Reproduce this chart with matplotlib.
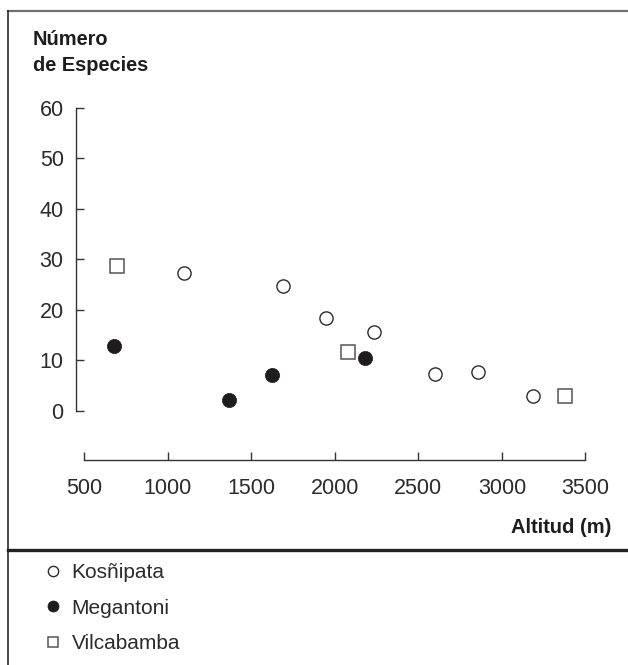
import matplotlib
matplotlib.use("Agg")
import matplotlib.pyplot as plt
from matplotlib.lines import Line2D

plt.rcParams['font.family'] = ['Liberation Sans', 'DejaVu Sans']

# Data
kosnipata_alt = [1100, 1690, 1950, 2236, 2600, 2855, 3186]
kosnipata_sp = [27.3, 24.6, 18.4, 15.6, 7.3, 7.7, 2.9]
megantoni_alt = [681, 1367, 1622, 2181]
megantoni_sp = [12.7, 2.1, 7.1, 10.5]
vilcabamba_alt = [695, 2079, 3377]
vilcabamba_sp = [28.6, 11.6, 2.9]
xticks = [500, 1000, 1500, 2000, 2500, 3000, 3500]
yticks = [0, 10, 20, 30, 40, 50, 60]
labels = ['Kosñipata', 'Megantoni', 'Vilcabamba']

W, H = 628, 665
fig = plt.figure(figsize=(W / 100, H / 100), dpi=100)

def fx(px):
    return px / W

def fy(py):
    return 1 - py / H

ax = fig.add_axes([0.1072, 0.2913, 0.8517, 0.5774])
ax.set_xlim(400, 3600)
ax.set_ylim(-12, 64)
ax.patch.set_visible(False)

k = ax.plot(kosnipata_alt, kosnipata_sp, 'o', ms=9.5, mfc='white', mec='#2b2b2b', mew=1.0,
            linestyle='none', label=labels[0])[0]
m = ax.plot(megantoni_alt, megantoni_sp, 'o', ms=10.2, mfc='#1e1c1d', mec='#1e1c1d', mew=0.5,
            linestyle='none', label=labels[1])[0]
v = ax.plot(vilcabamba_alt, vilcabamba_sp, 's', ms=9.5, mfc='white', mec='#555555', mew=1.1,
            linestyle='none', label=labels[2])[0]

for s in ['top', 'right']:
    ax.spines[s].set_visible(False)
ax.spines['left'].set_position(('data', 449))
ax.spines['left'].set_bounds(0, 60)
ax.spines['bottom'].set_position(('data', -9.8))
ax.spines['bottom'].set_bounds(500, 3500)
for s in ['left', 'bottom']:
    ax.spines[s].set_color('#333333')
    ax.spines[s].set_linewidth(1.0)

ax.set_xticks(xticks)
ax.set_yticks(yticks)
ax.set_xticklabels([str(t) for t in xticks])
ax.set_yticklabels([str(t) for t in yticks])
ax.tick_params(axis='both', direction='in', length=5.5, width=1.0, color='#333333',
               labelsize=15.5, labelcolor='#2b2b2b')
ax.tick_params(axis='x', pad=12.5)
ax.tick_params(axis='y', pad=8.5)

# Titles
fig.text(fx(33), fy(45), 'Número', fontsize=14.4, fontweight='bold', color='#1e1c1d',
         ha='left', va='baseline')
fig.text(fx(33), fy(70.7), 'de Especies', fontsize=14.4, fontweight='bold', color='#1e1c1d',
         ha='left', va='baseline')
fig.text(fx(611), fy(532.7), 'Altitud (m)', fontsize=14.5, fontweight='bold', color='#1e1c1d',
         ha='right', va='baseline')

# Frame lines
fig.add_artist(Line2D([fx(8), 1], [fy(10.7), fy(10.7)], color='#6e6e6e', lw=1.6))
fig.add_artist(Line2D([fx(8.3), fx(8.3)], [fy(10.7), 0], color='#2b2b2b', lw=1.2))
fig.add_artist(Line2D([fx(8), 1], [fy(549.5), fy(549.5)], color='#222222', lw=2.4))

leg = fig.legend(handles=[k, m, v], labels=labels, loc='upper left',
                 bbox_to_anchor=(fx(42.3), fy(563.5)), frameon=False, fontsize=15,
                 markerscale=0.78, handlelength=1.0, handletextpad=0.41,
                 labelspacing=0.78, borderpad=0, borderaxespad=0)
for t in leg.get_texts():
    t.set_color('#2b2b2b')

fig.savefig('out.png', dpi=100)
